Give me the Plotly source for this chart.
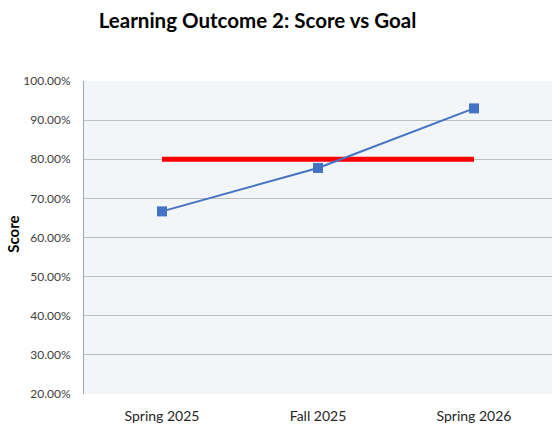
"""Learning Outcome 2: score per term against the 80% goal (Plotly)."""
import plotly.graph_objects as go

terms = ["Spring 2025", "Fall 2025", "Spring 2026"]
scores = [0.6667, 0.7778, 0.93]
goal = [0.80, 0.80, 0.80]

FONT = "Lato, 'Open Sans', sans-serif"

fig = go.Figure()
fig.add_trace(go.Scatter(
    x=terms, y=goal, mode="lines", name="Goal",
    line=dict(color="#ff0000", width=5), showlegend=False))
fig.add_trace(go.Scatter(
    x=terms, y=scores, mode="lines+markers", name="Score",
    line=dict(color="#4472c4", width=2),
    marker=dict(symbol="square", size=10, color="#4472c4"), showlegend=False))

fig.update_layout(
    width=555, height=444,
    margin=dict(l=84, r=3, t=81, b=50),
    paper_bgcolor="white", plot_bgcolor="#f2f6f9",
    font=dict(family=FONT, color="#404040", size=12),
    title=dict(text="<b>Learning Outcome 2: Score vs Goal</b>",
               x=0.464, xref="container", xanchor="center",
               y=1 - 21 / 444, yref="container", yanchor="middle",
               font=dict(size=20.5, color="black", family=FONT)),
    annotations=[dict(text="<b>Score</b>", textangle=-90, showarrow=False,
                      x=-0.151, xref="paper", y=0.51, yref="paper",
                      xanchor="center", yanchor="middle",
                      font=dict(size=15, color="black", family=FONT))],
)
fig.update_xaxes(range=[-0.5, 2.5], showgrid=False, showline=False, ticks="",
                 tickfont=dict(size=14, color="#262626"), ticklabelstandoff=12)
fig.update_yaxes(range=[0.2, 1.0], dtick=0.1, tickformat=".2%",
                 showgrid=True, gridcolor="#bfbfbf", gridwidth=1,
                 showline=True, linecolor="#a6a6a6", linewidth=1,
                 zeroline=False, ticks="", tickfont=dict(size=12),
                 ticklabelstandoff=10)

# page body has a default 8px margin; drop it so the figure sits at 0,0
fig.write_html("out.html", config=dict(displayModeBar=False),
               post_script="document.body.style.margin='0';")
